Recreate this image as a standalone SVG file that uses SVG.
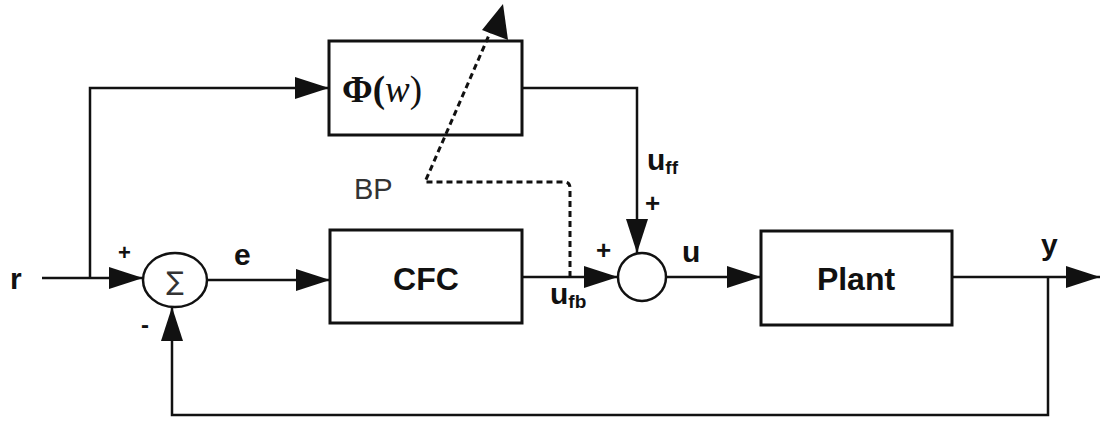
<svg xmlns="http://www.w3.org/2000/svg" width="1101" height="425" viewBox="0 0 1101 425">
<style>
.ln{fill:none;stroke:#111;stroke-width:2.5}
.dash{fill:none;stroke:#111;stroke-width:3;stroke-dasharray:6 4}
.box{fill:#fff;stroke:#111;stroke-width:3}
.t{font-family:"Liberation Sans",Arial,sans-serif;font-weight:bold;fill:#111}
</style>
<defs>
<marker id="ah" markerWidth="34" markerHeight="22" refX="34" refY="11" orient="auto" markerUnits="userSpaceOnUse">
<path d="M0,0 L34,11 L0,22 Z" fill="#111"/>
</marker>
</defs>
<rect width="1101" height="425" fill="#fff"/>
<g id="connectors">
<path class="ln" d="M42,278 L143,278" marker-end="url(#ah)"/>
<path class="ln" d="M90,278 L90,88 L329,88" marker-end="url(#ah)"/>
<path class="ln" d="M207,280 L330,280" marker-end="url(#ah)"/>
<path class="ln" d="M522,277 L618,277" marker-end="url(#ah)"/>
<path class="ln" d="M522,88 L637,88 L637,253" marker-end="url(#ah)"/>
<path class="ln" d="M666,277 L761,277" marker-end="url(#ah)"/>
<path class="ln" d="M952,277 L1100,277" marker-end="url(#ah)"/>
<path class="ln" d="M1048,277 L1048,415 L172,415 L172,307" marker-end="url(#ah)"/>
</g>
<g id="sum1">
<ellipse cx="175" cy="280" rx="32" ry="27" fill="#fff" stroke="#111" stroke-width="2.5"/>
<text x="175" y="290" font-family="DejaVu Sans,sans-serif" font-size="26" text-anchor="middle" fill="#333">∑</text>
</g>
<g id="phi">
<rect class="box" x="329" y="41" width="193" height="94"/>
<text x="342" y="102" font-family="Liberation Serif,serif" font-size="37" fill="#111"><tspan font-weight="bold">Φ(</tspan><tspan font-style="italic">w</tspan><tspan>)</tspan></text>
</g>
<g id="cfc">
<rect class="box" x="330" y="230" width="192" height="93"/>
<text class="t" x="426" y="290" font-size="32" text-anchor="middle">CFC</text>
</g>
<g id="sum2">
<circle cx="642" cy="277" r="24" fill="#fff" stroke="#111" stroke-width="2.5"/>
</g>
<g id="plant">
<rect class="box" x="761" y="231" width="191" height="94"/>
<text class="t" x="856" y="290" font-size="32" text-anchor="middle">Plant</text>
</g>
<g id="bp-link">
<path class="dash" d="M570,277 L570,188 Q570,182 564,182 L425,182 L493,26"/>
<path d="M503,4 L508,40 L482,30 Z" fill="#111"/>
</g>
<g id="labels">
<text class="t" x="10" y="289" font-size="30">r</text>
<text class="t" x="118" y="260" font-size="22">+</text>
<text class="t" x="141" y="333" font-size="24">-</text>
<text class="t" x="234" y="265" font-size="30">e</text>
<text x="354" y="199" font-family="Liberation Sans,Arial,sans-serif" font-size="29" fill="#333">BP</text>
<text class="t" x="647" y="170" font-size="30">u<tspan font-size="19" dy="4">ff</tspan></text>
<text class="t" x="645" y="212" font-size="26">+</text>
<text class="t" x="596" y="259" font-size="26">+</text>
<text class="t" x="682" y="262" font-size="30">u</text>
<text class="t" x="550" y="304" font-size="30">u<tspan font-size="19" dy="4">fb</tspan></text>
<text class="t" x="1041" y="255" font-size="30">y</text>
</g>
</svg>
